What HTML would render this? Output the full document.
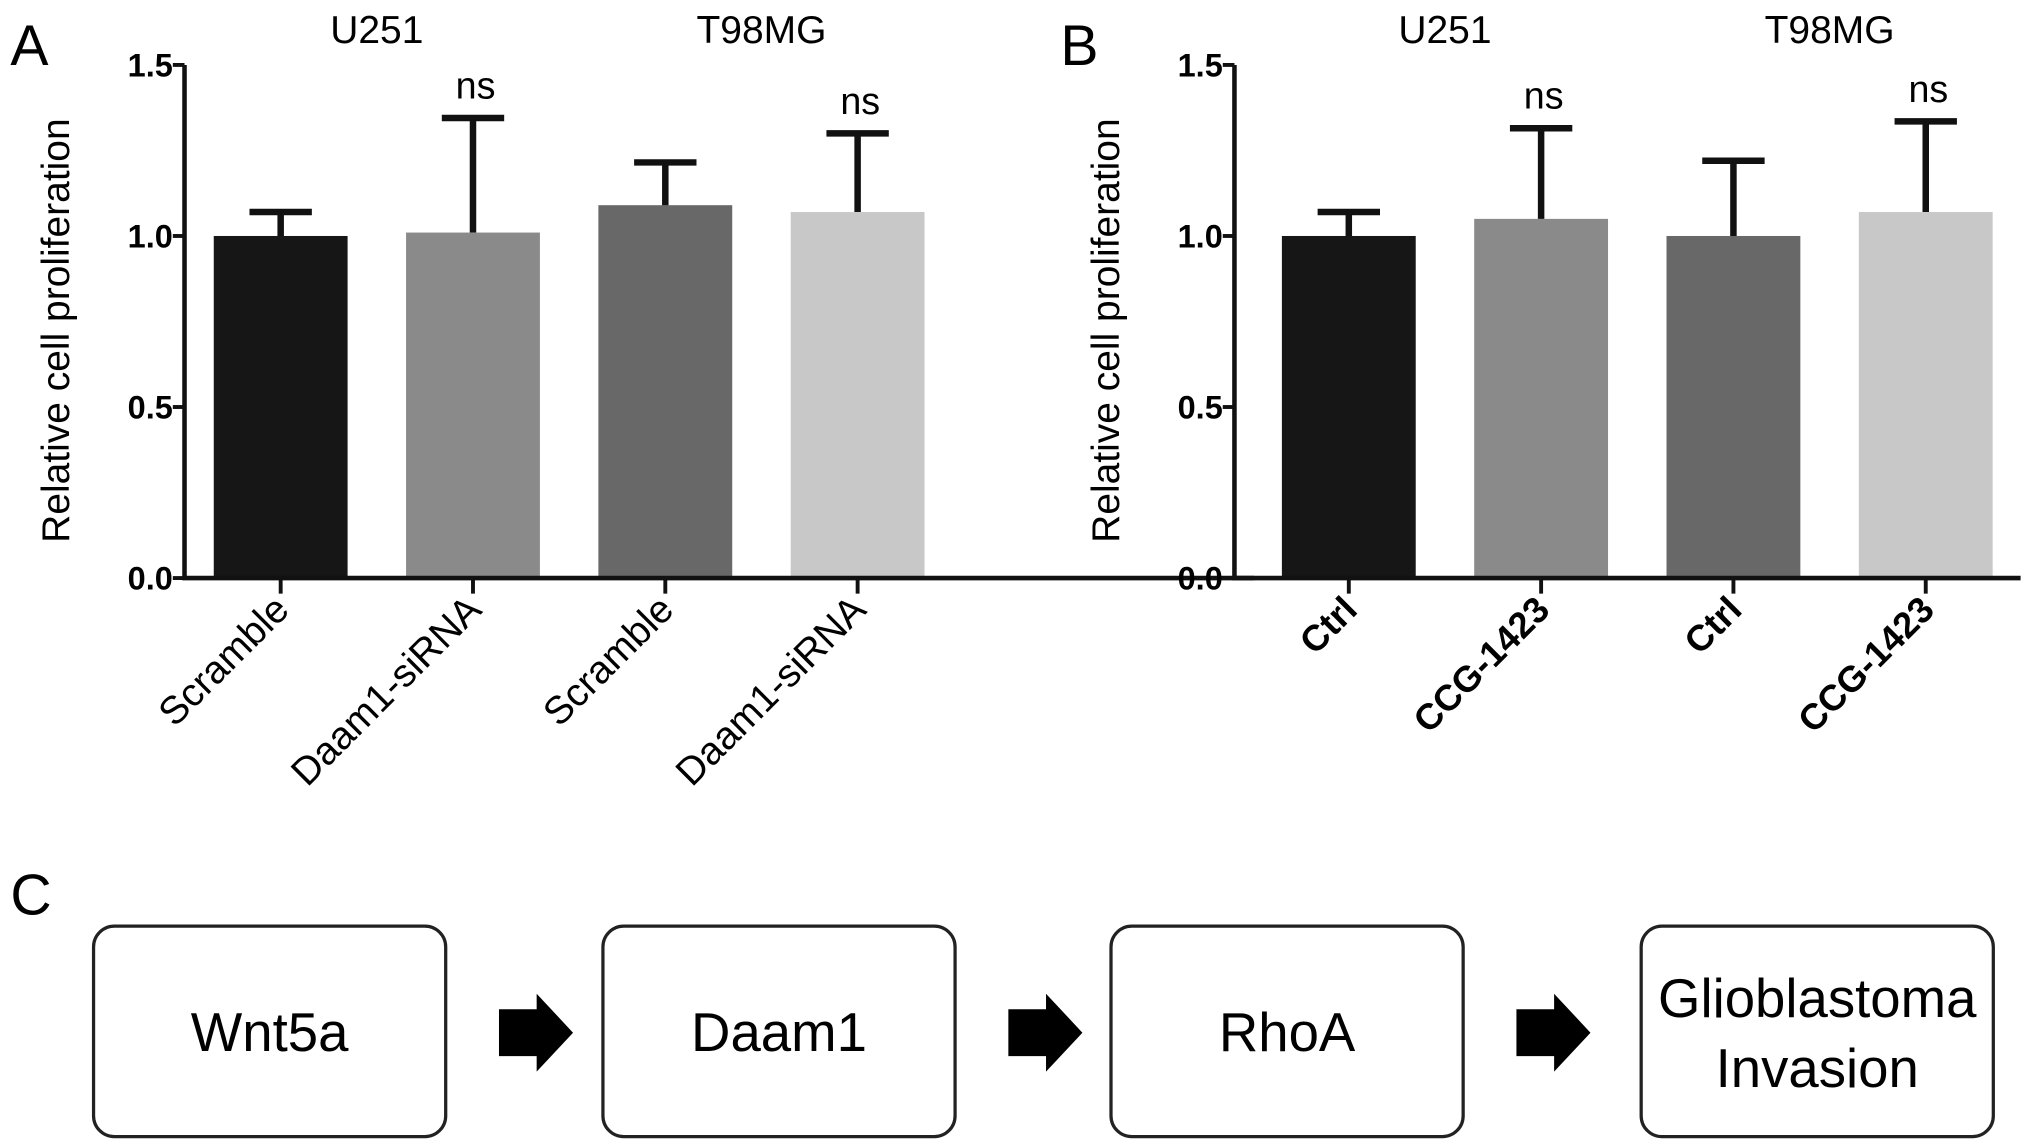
<!DOCTYPE html>
<html><head><meta charset="utf-8"><style>
html,body{margin:0;padding:0;background:#fff}
svg{display:block}
text{font-family:"Liberation Sans",sans-serif}
</style></head><body>
<svg id="fig" width="2031" height="1147" viewBox="0 0 1563 883" preserveAspectRatio="none" xmlns="http://www.w3.org/2000/svg"></svg>
<script>
const catsA = ["Scramble","Daam1-siRNA","Scramble","Daam1-siRNA"];
const valsA = [1.0, 1.01, 1.09, 1.07];
const errA = [1.07, 1.345, 1.215, 1.30];
const sigA = ["", "ns", "", "ns"];
const catsB = ["Ctrl","CCG-1423","Ctrl","CCG-1423"];
const valsB = [1.0, 1.05, 1.0, 1.07];
const errB = [1.07, 1.315, 1.22, 1.335];
const sigB = ["", "ns", "", "ns"];
const groups = ["U251","T98MG"];
const ticks = [0.0, 0.5, 1.0, 1.5];
const tickLabels = ["0.0","0.5","1.0","1.5"];
const colors = ["#161616","#8a8a8a","#686868","#c8c8c8"];

const NS="http://www.w3.org/2000/svg";
const svg=document.getElementById('fig');
function el(tag,attrs,parent){const e=document.createElementNS(NS,tag);for(const k in attrs)e.setAttribute(k,attrs[k]);(parent||svg).appendChild(e);return e;}

function panel(name,ox,firstC,xEnd,cats,vals,errs,sigs,bold,letter){
  const g=el('g',{});
  
  
  const y0=445, y1=50;
  const yS=v=>y0-(v/1.5)*(y0-y1);
  const step=148;
  const xS=i=>firstC+i*step;
  const bw=103;
  const L=el('text',{x:ox-134,y:50,'font-size':44},g);L.textContent=letter;
  
  
  const t=el('text',{transform:`translate(${ox-89},${(y0+y1)/2+7}) rotate(-90)`,'text-anchor':'middle','font-size':30},g);
  t.textContent='Relative cell proliferation';
  
  
  vals.forEach((v,i)=>{
    const b=el('rect',{x:xS(i)-bw/2,y:yS(v),width:bw,height:y0-yS(v),fill:colors[i]},g);
    
    
    const e=el('path',{d:`M${xS(i)} ${yS(v)} V${yS(errs[i])} M${xS(i)-24} ${yS(errs[i])} H${xS(i)+24}`,stroke:'#111','stroke-width':5,fill:'none'},g);
    
    
    if(sigs[i]){const s=el('text',{x:xS(i)+2,y:yS(errs[i])-15,'text-anchor':'middle','font-size':29},g);s.textContent=sigs[i];
      
      }
    el('line',{x1:xS(i),x2:xS(i),y1:y0,y2:y0+12,stroke:'#111','stroke-width':3},g);
    const c=el('text',{transform:`translate(${xS(i)+8},${y0+26}) rotate(-45)`,'text-anchor':'end','font-size':bold?28:30,'font-weight':bold?'bold':'normal'},g);
    c.textContent=cats[i];
    
    
  });
  el('path',{d:`M${ox} ${y1} V${y0} H${xEnd}`,stroke:'#111','stroke-width':3.5,fill:'none'},g);
  ticks.forEach((tv,i)=>{
    el('line',{x1:ox-9,x2:ox,y1:yS(tv),y2:yS(tv),stroke:'#111','stroke-width':3},g);
    const tl=el('text',{x:ox-9,y:yS(tv)+9,'text-anchor':'end','font-size':25,'font-weight':'bold'},g);
    tl.textContent=tickLabels[i];
    
    
  });
  groups.forEach((gn,j)=>{
    const gx=(xS(2*j)+xS(2*j+1))/2;
    const gt=el('text',{x:gx,y:33,'text-anchor':'middle','font-size':30},g);
    gt.textContent=gn;
    
    
  });
}
panel('a',142,216,965,catsA,valsA,errA,sigA,false,'A');
panel('b',950,1038,1555,catsB,valsB,errB,sigB,true,'B');

const C=el('text',{x:8,y:704,'font-size':44});C.textContent='C';


const boxX=[72,464,855,1263];
const labels=["Wnt5a","Daam1","RhoA",null];
const ff='"Liberation Sans Narrow","Liberation Sans",sans-serif';
boxX.forEach((bx,i)=>{
  const r=el('rect',{x:bx,y:713,width:271,height:162,rx:16,fill:'#fff',stroke:'#222','stroke-width':2.5});
  
  
  const cx=bx+135.5;
  if(labels[i]){
    const t=el('text',{x:cx,y:809,'text-anchor':'middle','font-size':42,'font-family':ff});t.textContent=labels[i];
    
    
  } else {
    const t=el('text',{x:cx,y:783,'text-anchor':'middle','font-size':42,'font-family':ff});t.textContent='Glioblastoma';
    
    
    const t2=el('text',{x:cx,y:837,'text-anchor':'middle','font-size':42,'font-family':ff});t2.textContent='Invasion';
    
    
  }
  if(i<3){
    const ax=bx+271+41;
    const a=el('path',{d:`M${ax} 777 H${ax+29} V765 L${ax+57} 795 L${ax+29} 825 V813 H${ax} Z`,fill:'#000'});
    
    
  }
});
</script>
</body></html>
